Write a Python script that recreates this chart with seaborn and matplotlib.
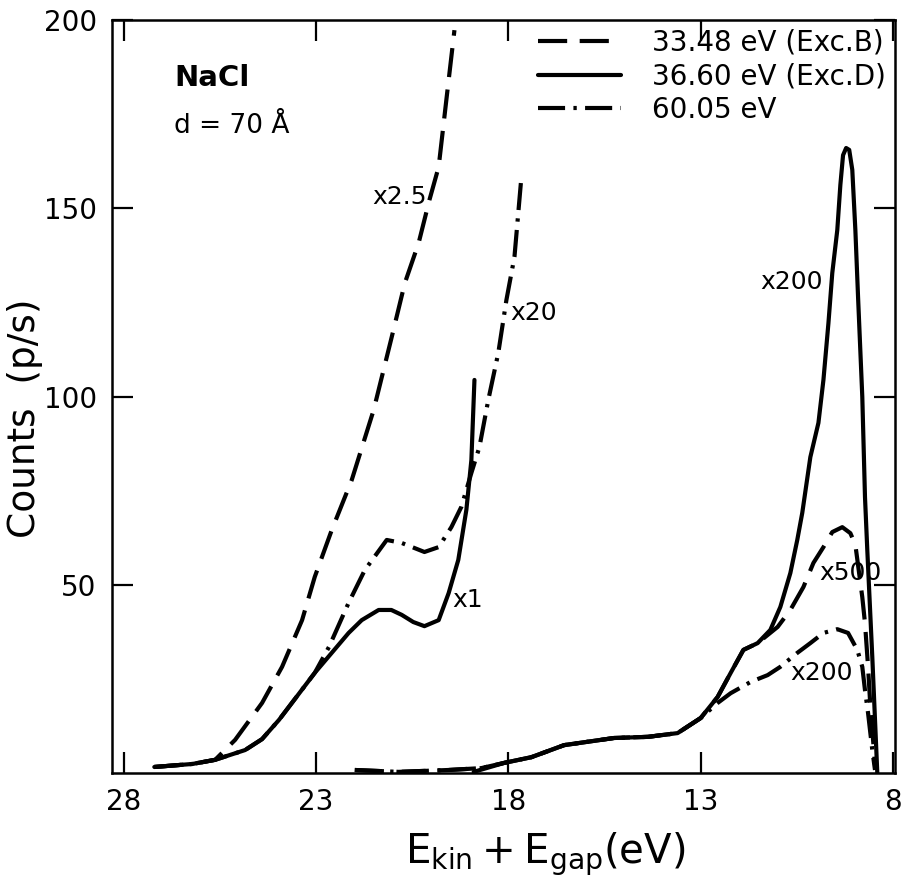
import matplotlib
matplotlib.use("Agg")
import matplotlib.pyplot as plt
from matplotlib.lines import Line2D
import numpy as np
import pandas as pd
import seaborn as sns

# ---------------- data (E_kin + E_gap in eV, counts in p/s as plotted) ----------------
# 36.60 eV (Exc. D), x1 part
exc_d_low_x = [27.20, 26.21, 25.62, 24.84, 24.40, 23.96, 23.03, 22.15, 21.81, 21.37, 21.04,
               20.77, 20.47, 20.18, 19.81, 19.55, 19.30, 19.09, 18.96, 18.88]
exc_d_low_y = [1.6, 2.4, 3.5, 6.1, 9.0, 14.1, 26.6, 37.2, 40.6, 43.3, 43.3,
               42.0, 40.1, 39.0, 40.6, 47.8, 56.6, 69.9, 83.1, 104.4]
# 36.60 eV (Exc. D), x200 part
exc_d_high_x = [18.90, 18.10, 17.40, 16.55, 15.25, 14.37, 13.60, 13.00, 12.56, 12.22, 11.89,
                11.52, 11.19, 10.93, 10.67, 10.49, 10.36, 10.15, 9.94, 9.81, 9.68, 9.58,
                9.45, 9.37, 9.30, 9.22, 9.14, 9.06, 8.98, 8.91, 8.80, 8.73, 8.67, 8.54, 8.41]
exc_d_high_y = [0.3, 2.7, 4.2, 7.4, 9.3, 9.6, 10.6, 14.6, 20.2, 26.6, 32.7,
                34.5, 38.0, 44.1, 53.1, 61.9, 69.1, 83.9, 93.0, 104.4, 119.5, 132.8,
                144.2, 156.2, 164.1, 166.0, 165.5, 160.2, 144.2, 126.4, 99.9, 73.3, 59.2, 30.8, 0.0]

# 33.48 eV (Exc. B), x2.5 part
exc_b_low_x = [27.20, 26.21, 25.62, 25.10, 24.40, 23.88, 23.36, 23.03, 22.59, 22.07, 21.50,
               21.03, 20.69, 20.33, 20.05, 19.81, 19.61, 19.40]
exc_b_low_y = [1.6, 2.4, 3.5, 8.8, 18.6, 28.2, 40.6, 52.1, 64.5, 77.8, 96.4,
               115.8, 130.1, 140.8, 152.2, 161.0, 178.8, 197.3]
# 33.48 eV (Exc. B), x500 part
exc_b_high_x = [21.99, 20.85, 19.55, 18.70, 18.10, 17.40, 16.55, 15.25, 14.37, 13.60, 13.00,
                12.56, 12.22, 11.89, 11.52, 11.00, 10.67, 10.33, 10.07, 9.81, 9.58, 9.32,
                9.11, 8.98, 8.80, 8.73, 8.65, 8.60, 8.52, 8.47]
exc_b_high_y = [0.8, 0.3, 0.8, 1.3, 2.7, 4.2, 7.4, 9.3, 9.6, 10.6, 14.6,
                20.2, 26.6, 32.7, 34.5, 38.8, 43.3, 49.4, 55.8, 60.0, 64.0, 65.3,
                63.7, 60.6, 46.7, 39.8, 28.2, 19.4, 8.8, 2.1]

# 60.05 eV, x20 part
e60_low_x = [27.20, 26.21, 25.62, 24.84, 24.40, 23.96, 23.03, 22.66, 22.15, 21.73, 21.16,
             20.77, 20.18, 19.81, 19.48, 19.22, 18.96, 18.75, 18.52, 18.26, 18.05, 17.84, 17.66]
e60_low_y = [1.6, 2.4, 3.5, 6.1, 9.0, 14.1, 26.6, 33.5, 45.2, 53.9, 61.9,
             61.1, 58.7, 60.0, 65.3, 70.7, 79.7, 86.6, 99.1, 111.6, 125.6, 137.1, 158.3]
# 60.05 eV, x200 part
e60_high_x = [21.99, 20.85, 19.55, 18.70, 18.10, 17.40, 16.55, 15.25, 14.37, 13.60, 13.00,
              12.56, 12.22, 11.70, 11.26, 10.93, 10.49, 10.15, 9.81, 9.45, 9.17, 8.93,
              8.80, 8.73, 8.65, 8.54, 8.47]
e60_high_y = [0.8, 0.3, 0.8, 1.3, 2.7, 4.2, 7.4, 9.3, 9.6, 10.6, 14.6,
              18.6, 21.2, 24.2, 26.0, 28.2, 31.9, 34.5, 37.2, 38.2, 37.2, 32.7,
              28.2, 22.0, 15.9, 6.1, 0.8]

legend_labels = ["33.48 eV (Exc.B)", "36.60 eV (Exc.D)", "60.05 eV"]
x_ticks = [28, 23, 18, 13, 8]
y_ticks = [50, 100, 150, 200]

# scale-factor annotations: (text, x, y)
scale_labels = ["x2.5", "x20", "x1", "x200", "x500", "x200"]
scale_label_x = [20.82, 17.35, 19.05, 10.64, 9.11, 9.87]
scale_label_y = [153.0, 122.2, 46.0, 130.4, 53.1, 26.6]

# ---------------- style ----------------
sns.set_style("ticks")
plt.rcParams["font.family"] = ["DejaVu Sans"]
plt.rcParams["mathtext.fontset"] = "dejavusans"
plt.rcParams["text.color"] = "black"
plt.rcParams["axes.labelcolor"] = "black"
plt.rcParams["xtick.color"] = "black"
plt.rcParams["ytick.color"] = "black"

fig = plt.figure(figsize=(9.04, 8.83), dpi=100)
ax = fig.add_axes([112 / 904, 1 - 773 / 883, (895 - 112) / 904, (773 - 20) / 883])

LW = 3.0
DASHED = (0, (7, 3))
DASHDOT = (0, (6.5, 2.0, 0.8, 2.0))

def seg(xs, ys, ls):
    df = pd.DataFrame({"x": xs, "y": ys})
    sns.lineplot(data=df, x="x", y="y", ax=ax, sort=False, estimator=None,
                 color="black", linewidth=LW, linestyle=ls)

seg(exc_d_low_x, exc_d_low_y, "-")
seg(exc_d_high_x, exc_d_high_y, "-")
seg(exc_b_low_x, exc_b_low_y, DASHED)
seg(exc_b_high_x, exc_b_high_y, DASHED)
seg(e60_low_x, e60_low_y, DASHDOT)
seg(e60_high_x, e60_high_y, DASHDOT)

ax.set_xlim(28.3, 7.95)
ax.set_ylim(0, 200)
ax.set_xticks(x_ticks)
ax.set_yticks(y_ticks)
ax.tick_params(direction="in", length=15, width=1.6, top=True, right=True,
               labelsize=20, pad=11, colors="black")
for s in ax.spines.values():
    s.set_linewidth(1.8)
    s.set_color("black")

ax.set_xlabel(r"$\mathregular{E_{kin}+E_{gap}(eV)}$", fontsize=29)
ax.xaxis.set_label_coords(0.553, -0.077)
ax.set_ylabel("Counts  (p/s)", fontsize=27)
ax.yaxis.set_label_coords(-0.088, 0.471)

ax.text(26.68, 182.5, "NaCl", fontsize=21, fontweight="bold", ha="left", va="baseline")
ax.text(26.68, 170, "d = 70 Å", fontsize=19, ha="left", va="baseline")

for t, xx, yy in zip(scale_labels, scale_label_x, scale_label_y):
    ax.text(xx, yy, t, fontsize=18, ha="center", va="center")

handles = [Line2D([], [], color="black", lw=LW, linestyle=DASHED),
           Line2D([], [], color="black", lw=LW, linestyle="-"),
           Line2D([], [], color="black", lw=LW, linestyle=DASHDOT)]
ax.legend(handles, legend_labels, loc="upper left", bbox_to_anchor=(0.53, 1.003),
          frameon=False, fontsize=20, handlelength=3.0, handletextpad=1.1,
          labelspacing=0.2, borderaxespad=0.0)

fig.savefig("out.png", dpi=100)
